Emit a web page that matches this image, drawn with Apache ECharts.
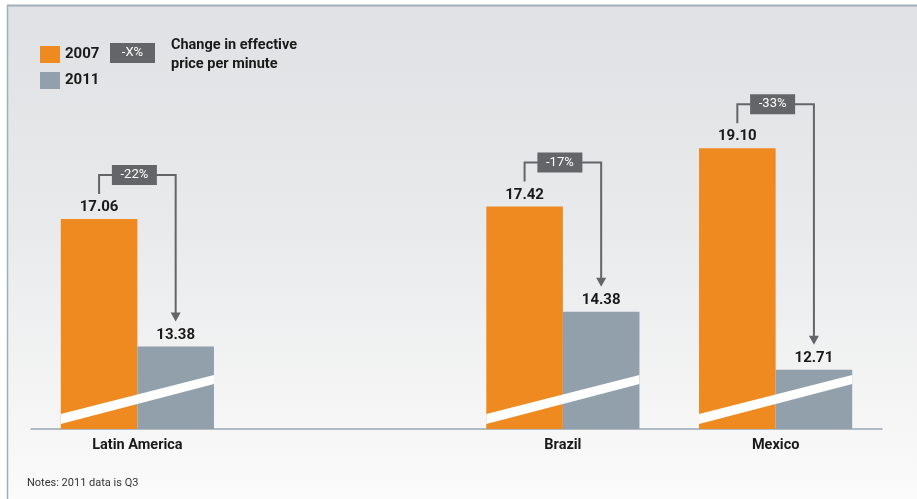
<!DOCTYPE html>
<html>
<head>
<meta charset="utf-8">
<script src="https://cdn.jsdelivr.net/npm/echarts@6/dist/echarts.min.js"></script>
<style>
  html, body { margin: 0; padding: 0; background: #ffffff; }
  #chart { width: 917px; height: 499px; }
</style>
</head>
<body>
<div id="chart"></div>
<script>
// Effective price per minute by market, 2007 vs 2011
const categories = ['Latin America', '', 'Brazil', 'Mexico'];
const values2007 = [17.06, null, 17.42, 19.10];
const values2011 = [13.38, null, 14.38, 12.71];
const changeLabels = ['-22%', null, '-17%', '-33%'];
const seriesNames = ['2007', '2011'];
const legendBoxText = '-X%';
const legendNote = 'Change in effective\nprice per minute';
const footNote = 'Notes: 2011 data is Q3';

// The value axis is broken (white stripe), so it starts above zero
const axisMin = 11;
const axisMax = 23;

const ORANGE = '#ee8a20';
const GREY = '#91a0aa';
const DARK = '#646569';
const AXIS = '#9aa8b5';
const FONT = 'Roboto, "Liberation Sans", sans-serif';

const CAT_GAP = 0.28;           // barCategoryGap
const barFrac = (1 - CAT_GAP) / 2;

// Rows for the change brackets and the break stripes
const bracketData = [];
const stripeData = [];
categories.forEach((c, i) => {
  if (values2007[i] != null && values2011[i] != null) {
    bracketData.push([i, values2007[i], values2011[i], changeLabels[i]]);
    stripeData.push([i, axisMin]);
  }
});

const chart = echarts.init(document.getElementById('chart'), null, { renderer: 'canvas' });

function renderBracket(params, api) {
  const idx = api.value(0);
  const p07 = api.coord([idx, api.value(1)]);
  const p11 = api.coord([idx, api.value(2)]);
  const cw = api.size([1, 0])[0];
  const bw = cw * barFrac;
  const x07 = p07[0] - bw / 2;
  const x11 = p07[0] + bw / 2;
  const yTop = p07[1] - 44;
  const yLeftEnd = p07[1] - 25;
  const tip = p11[1] - 25;
  const label = bracketData[params.dataIndex][3];
  const midX = (x07 + x11) / 2 - 3;
  return {
    type: 'group',
    children: [
      {
        type: 'polyline',
        shape: { points: [[x07, yLeftEnd], [x07, yTop], [x11, yTop], [x11, tip - 8]] },
        style: { stroke: DARK, lineWidth: 2, fill: null }
      },
      {
        type: 'polygon',
        shape: { points: [[x11 - 5, tip - 9], [x11 + 5, tip - 9], [x11, tip]] },
        style: { fill: DARK }
      },
      {
        type: 'rect',
        shape: { x: midX - 22.5, y: yTop - 10, width: 45, height: 20 },
        style: { fill: DARK }
      },
      {
        type: 'text',
        x: midX, y: yTop,
        style: {
          text: label, fill: '#ffffff', font: '13px ' + FONT,
          align: 'center', verticalAlign: 'middle'
        }
      }
    ]
  };
}

function renderStripe(params, api) {
  const idx = api.value(0);
  const base = api.coord([idx, api.value(1)]);
  const cw = api.size([1, 0])[0];
  const bw = cw * barFrac;
  const xL = base[0] - bw;
  const xR = base[0] + bw;
  const y = base[1];
  return {
    type: 'polygon',
    shape: { points: [[xL, y - 5], [xR, y - 45], [xR, y - 54], [xL, y - 15]] },
    style: { fill: '#ffffff' }
  };
}

const valueLabel = {
  show: true, position: 'top', distance: 4,
  formatter: p => p.value.toFixed(2),
  fontSize: 15, fontWeight: 'bold', color: '#1a1a1a', fontFamily: FONT
};

const option = {
  animation: false,
  textStyle: { fontFamily: FONT },
  graphic: [
    {
      type: 'rect', z: -10, silent: true,
      shape: { x: 7, y: 5, width: 910, height: 494 },
      style: {
        fill: new echarts.graphic.LinearGradient(0, 0, 0, 1, [
          { offset: 0, color: '#dfe1e4' },
          { offset: 0.45, color: '#e9eaec' },
          { offset: 0.85, color: '#f6f6f6' },
          { offset: 1, color: '#fbfbfb' }
        ])
      }
    },
    {
      type: 'line', z: -5, silent: true,
      shape: { x1: 7, y1: 5.5, x2: 917, y2: 5.5 },
      style: { stroke: '#a3afbb', lineWidth: 2 }
    },
    {
      type: 'line', z: -5, silent: true,
      shape: { x1: 7.5, y1: 5, x2: 7.5, y2: 499 },
      style: { stroke: '#a3afbb', lineWidth: 1.5 }
    },
    {
      type: 'rect', silent: true,
      shape: { x: 110, y: 43, width: 45, height: 20 },
      style: { fill: DARK }
    },
    {
      type: 'text', silent: true,
      x: 132.5, y: 53,
      style: {
        text: legendBoxText, fill: '#ffffff', font: '13px ' + FONT,
        align: 'center', verticalAlign: 'middle'
      }
    },
    {
      type: 'text', silent: true,
      x: 171, y: 36,
      style: {
        text: legendNote, fill: '#1a1a1a', font: 'bold 14.5px ' + FONT,
        lineHeight: 19, align: 'left', verticalAlign: 'top'
      }
    },
    {
      type: 'text', silent: true,
      x: 27, y: 483,
      style: {
        text: footNote, fill: '#333333', font: '11px ' + FONT,
        align: 'left', verticalAlign: 'middle'
      }
    }
  ],
  legend: {
    data: seriesNames,
    orient: 'vertical',
    left: 35, top: 41,
    itemWidth: 20, itemHeight: 17, itemGap: 9,
    icon: 'rect',
    selectedMode: false,
    textStyle: { fontSize: 15, fontWeight: 'bold', color: '#1a1a1a', fontFamily: FONT }
  },
  grid: { left: 31, right: 35, top: 13, bottom: 70, containLabel: false },
  xAxis: {
    type: 'category',
    data: categories,
    axisLine: { lineStyle: { color: AXIS, width: 1.5 } },
    axisTick: { length: 6, lineStyle: { color: AXIS, width: 1.5 } },
    axisLabel: { margin: 9, fontSize: 14.5, fontWeight: 'bold', color: '#1a1a1a', fontFamily: FONT }
  },
  yAxis: {
    type: 'value', min: axisMin, max: axisMax, show: false,
    splitLine: { show: false }
  },
  series: [
    {
      name: seriesNames[0], type: 'bar', data: values2007,
      barCategoryGap: (CAT_GAP * 100) + '%', barGap: 0,
      itemStyle: { color: ORANGE },
      label: valueLabel
    },
    {
      name: seriesNames[1], type: 'bar', data: values2011,
      barCategoryGap: (CAT_GAP * 100) + '%', barGap: 0,
      itemStyle: { color: GREY },
      label: valueLabel
    },
    {
      type: 'custom', name: 'break', data: stripeData,
      renderItem: renderStripe, encode: { x: 0, y: 1 },
      z: 5, silent: true, clip: false
    },
    {
      type: 'custom', name: 'change', data: bracketData,
      renderItem: renderBracket, encode: { x: 0, y: [1, 2] },
      z: 6, silent: true, clip: false
    }
  ]
};

chart.setOption(option);
</script>
</body>
</html>
